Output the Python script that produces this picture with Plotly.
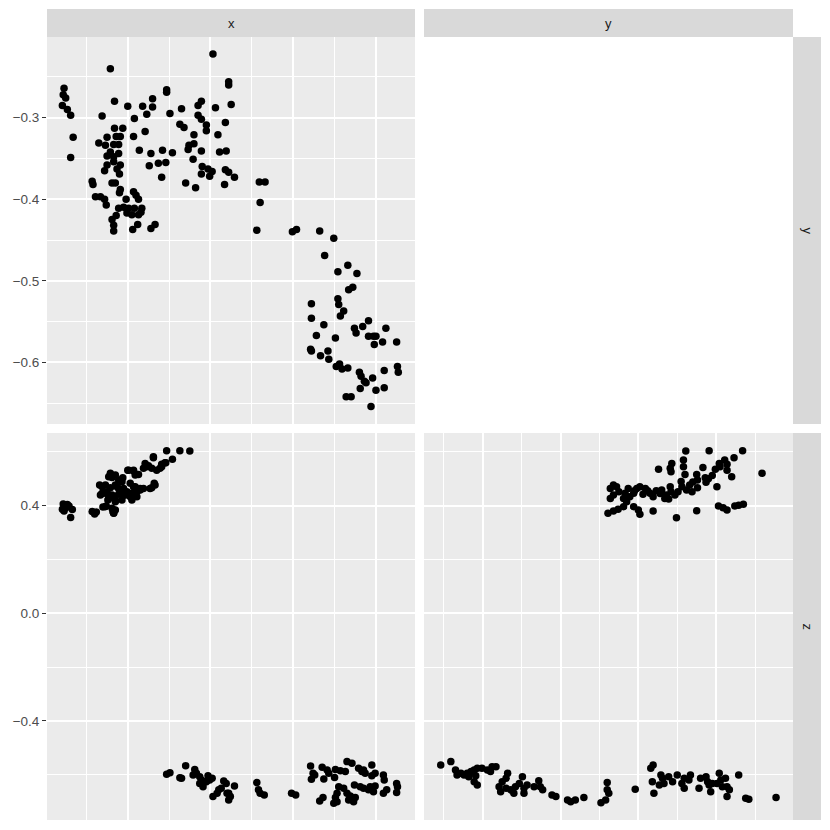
import plotly.graph_objects as go

# ---------------- data ----------------
# panel: y vs x  (row "y", column "x")
xy_x = [-0.877,-0.878,-0.875,-0.879,-0.873,-0.869,-0.866,-0.869,
        -0.821,-0.816,-0.800,-0.782,-0.770,-0.770,-0.777,-0.831,-0.792,-0.753,-0.753,-0.749,-0.735,
        -0.697,-0.678,-0.678,-0.675,-0.694,-0.715,-0.711,-0.715,-0.711,-0.705,-0.705,-0.682,-0.691,-0.737,-0.732,-0.720,-0.726,-0.727,-0.720,-0.711,
        -0.721,-0.710,-0.711,-0.703,-0.698,-0.701,-0.689,-0.681,-0.682,-0.678,-0.671,-0.683,-0.730,-0.718,
        -0.786,-0.772,-0.774,-0.758,-0.763,-0.754,-0.746,-0.759,
        -0.779,-0.793,-0.806,-0.816,-0.809,-0.814,-0.825,-0.835,-0.827,-0.817,-0.811,-0.821,-0.811,-0.825,-0.817,-0.825,-0.817,-0.809,-0.828,-0.813,
        -0.810,-0.843,-0.842,-0.819,-0.815,-0.809,-0.810,-0.839,-0.833,-0.828,-0.826,-0.802,-0.793,-0.790,-0.787,-0.811,-0.805,-0.799,-0.792,-0.783,
        -0.801,-0.795,-0.787,-0.784,-0.819,-0.814,-0.817,-0.817,-0.794,-0.788,-0.772,-0.767,
        -0.641,-0.634,-0.640,-0.644,-0.601,-0.596,-0.568,-0.551,-0.562,-0.546,-0.534,-0.523,-0.533,-0.528,-0.546,-0.545,-0.539,-0.543,-0.578,-0.578,
        -0.563,-0.572,-0.549,-0.526,-0.524,-0.516,-0.509,-0.509,-0.503,-0.500,-0.502,-0.492,-0.488,-0.475,-0.579,-0.578,-0.567,-0.558,-0.557,-0.548,
        -0.544,-0.541,-0.534,-0.520,-0.518,-0.514,-0.512,-0.519,-0.504,-0.500,-0.490,-0.490,-0.474,-0.473,-0.536,-0.530,-0.506]
xy_y = [-0.264,-0.272,-0.276,-0.285,-0.290,-0.297,-0.324,-0.349,
        -0.240,-0.280,-0.286,-0.286,-0.277,-0.287,-0.296,-0.298,-0.301,-0.266,-0.269,-0.295,-0.289,
        -0.222,-0.256,-0.260,-0.284,-0.288,-0.285,-0.280,-0.297,-0.302,-0.309,-0.316,-0.306,-0.321,-0.308,-0.312,-0.321,-0.334,-0.339,-0.332,-0.341,
        -0.351,-0.360,-0.369,-0.363,-0.366,-0.372,-0.342,-0.341,-0.364,-0.367,-0.373,-0.382,-0.380,-0.386,
        -0.340,-0.344,-0.359,-0.340,-0.356,-0.355,-0.343,-0.373,
        -0.317,-0.323,-0.313,-0.313,-0.323,-0.323,-0.324,-0.331,-0.334,-0.333,-0.333,-0.342,-0.344,-0.347,-0.348,-0.358,-0.354,-0.358,-0.365,-0.363,
        -0.369,-0.378,-0.382,-0.380,-0.380,-0.388,-0.392,-0.397,-0.397,-0.400,-0.407,-0.400,-0.391,-0.395,-0.400,-0.411,-0.410,-0.411,-0.411,-0.411,
        -0.417,-0.419,-0.419,-0.416,-0.425,-0.420,-0.432,-0.439,-0.437,-0.431,-0.436,-0.431,
        -0.379,-0.379,-0.404,-0.438,-0.440,-0.437,-0.439,-0.448,-0.469,-0.489,-0.481,-0.491,-0.511,-0.508,-0.522,-0.529,-0.537,-0.543,-0.528,-0.546,
        -0.554,-0.567,-0.570,-0.558,-0.564,-0.556,-0.549,-0.568,-0.568,-0.568,-0.578,-0.575,-0.558,-0.575,-0.584,-0.586,-0.592,-0.586,-0.596,-0.605,
        -0.602,-0.608,-0.607,-0.612,-0.617,-0.623,-0.625,-0.632,-0.619,-0.634,-0.610,-0.631,-0.605,-0.612,-0.642,-0.642,-0.654]

# panel: z vs x  (row "z", column "x"), (x, z) pairs
xz_pairs = [
    (-0.753,0.604),(-0.737,0.604),(-0.725,0.603),(-0.769,0.578),(-0.746,0.572),(-0.759,0.554),(-0.755,0.559),(-0.779,0.557),
    (-0.775,0.548),(-0.781,0.539),(-0.771,0.539),(-0.765,0.532),(-0.761,0.539),(-0.799,0.532),(-0.793,0.529),(-0.787,0.516),
    (-0.791,0.514),(-0.821,0.520),(-0.823,0.507),(-0.806,0.504),(-0.807,0.489),(-0.767,0.477),(-0.773,0.464),(-0.831,0.470),
    (-0.827,0.477),(-0.821,0.467),(-0.815,0.477),(-0.811,0.464),(-0.805,0.464),(-0.791,0.470),(-0.785,0.464),(-0.789,0.452),
    (-0.795,0.446),(-0.833,0.440),(-0.827,0.446),(-0.819,0.440),(-0.811,0.442),(-0.803,0.440),(-0.797,0.433),(-0.823,0.427),
    (-0.815,0.421),(-0.807,0.421),(-0.827,0.396),(-0.819,0.390),(-0.817,0.372),(-0.815,0.384),
    (-0.800,0.532),(-0.793,0.532),(-0.819,0.505),(-0.777,0.545),(-0.769,0.582),(-0.759,0.545),(-0.754,0.559),(-0.834,0.477),
    (-0.831,0.446),(-0.825,0.452),(-0.813,0.470),(-0.809,0.458),(-0.805,0.440),(-0.801,0.452),(-0.795,0.421),(-0.789,0.433),
    (-0.785,0.458),(-0.781,0.464),(-0.768,0.483),(-0.771,0.467),(-0.797,0.483),(-0.793,0.470),(-0.817,0.433),(-0.815,0.415),
    (-0.824,0.421),(-0.811,0.495),(-0.815,0.514),
    (-0.878,0.406),(-0.873,0.404),(-0.879,0.387),(-0.875,0.391),(-0.871,0.399),(-0.877,0.380),(-0.867,0.386),(-0.869,0.356),
    (-0.843,0.378),(-0.840,0.369),(-0.838,0.376),(-0.830,0.395),(-0.826,0.399),(-0.818,0.378),(-0.817,0.373),
    (-0.753,-0.598),(-0.749,-0.592),(-0.735,-0.613),(-0.730,-0.566),(-0.737,-0.611),
    (-0.719,-0.580),(-0.717,-0.594),(-0.713,-0.607),(-0.711,-0.619),(-0.709,-0.644),(-0.713,-0.632),(-0.705,-0.626),(-0.701,-0.619),
    (-0.703,-0.604),(-0.698,-0.613),(-0.721,-0.601),(-0.707,-0.626),
    (-0.697,-0.681),(-0.690,-0.656),(-0.687,-0.650),(-0.684,-0.623),(-0.681,-0.632),(-0.678,-0.694),(-0.676,-0.681),(-0.671,-0.642),
    (-0.680,-0.669),(-0.692,-0.669),(-0.678,-0.669),
    (-0.644,-0.629),(-0.642,-0.656),(-0.635,-0.675),(-0.640,-0.669),
    (-0.602,-0.669),(-0.597,-0.675),
    (-0.579,-0.567),(-0.576,-0.594),(-0.578,-0.617),(-0.574,-0.601),(-0.565,-0.572),(-0.559,-0.582),(-0.557,-0.594),(-0.563,-0.616),
    (-0.549,-0.580),(-0.550,-0.610),(-0.543,-0.585),(-0.537,-0.588),(-0.535,-0.551),(-0.529,-0.557),
    (-0.545,-0.644),(-0.539,-0.650),(-0.547,-0.669),(-0.549,-0.684),(-0.547,-0.700),(-0.551,-0.706),
    (-0.568,-0.697),(-0.564,-0.684),
    (-0.535,-0.669),(-0.533,-0.694),(-0.527,-0.700),(-0.525,-0.684),(-0.531,-0.679),
    (-0.526,-0.638),(-0.519,-0.644),(-0.515,-0.650),(-0.509,-0.656),(-0.507,-0.644),(-0.501,-0.642),(-0.503,-0.663),
    (-0.521,-0.576),(-0.517,-0.588),(-0.513,-0.594),(-0.515,-0.582),(-0.505,-0.564),(-0.501,-0.594),(-0.505,-0.604),
    (-0.491,-0.601),(-0.490,-0.619),(-0.487,-0.656),(-0.491,-0.669),
    (-0.475,-0.632),(-0.474,-0.644),(-0.475,-0.666),
]

# panel: z vs y  (row "z", column "y"), (y, z) pairs
yz_pairs = [
    (-0.339,0.603),(-0.309,0.604),(-0.266,0.604),(-0.241,0.520),(-0.357,0.557),(-0.359,0.539),(-0.358,0.526),(-0.342,0.570),
    (-0.342,0.545),(-0.340,0.516),(-0.374,0.535),(-0.317,0.542),(-0.301,0.535),(-0.296,0.557),(-0.289,0.570),(-0.286,0.554),
    (-0.277,0.578),(-0.286,0.532),(-0.280,0.507),(-0.299,0.470),(-0.325,0.516),(-0.324,0.495),(-0.314,0.504),(-0.313,0.487),
    (-0.324,0.467),(-0.334,0.477),(-0.331,0.452),(-0.338,0.458),(-0.344,0.470),(-0.349,0.452),(-0.353,0.440),(-0.359,0.470),
    (-0.358,0.452),(-0.364,0.440),(-0.366,0.427),(-0.370,0.458),(-0.361,0.425),(-0.381,0.433),(-0.385,0.446),(-0.391,0.464),
    (-0.394,0.442),(-0.398,0.470),(-0.402,0.464),(-0.406,0.446),(-0.413,0.464),(-0.417,0.446),(-0.419,0.427),(-0.415,0.415),
    (-0.411,0.433),(-0.432,0.477),(-0.436,0.464),(-0.432,0.440),(-0.436,0.427),(-0.439,0.372),(-0.432,0.380),(-0.426,0.387),
    (-0.419,0.396),(-0.406,0.396),(-0.400,0.384),(-0.398,0.368),(-0.381,0.380),(-0.351,0.355),(-0.325,0.381),(-0.297,0.399),
    (-0.291,0.392),(-0.286,0.384),(-0.276,0.399),(-0.271,0.402),(-0.265,0.405),
    (-0.345,0.490),(-0.330,0.488),(-0.310,0.500),(-0.305,0.512),(-0.295,0.545),(-0.372,0.445),(-0.377,0.455),(-0.388,0.455),
    (-0.405,0.455),(-0.425,0.452),(-0.428,0.470),
    (-0.654,-0.564),(-0.641,-0.551),(-0.635,-0.582),(-0.633,-0.601),(-0.628,-0.594),(-0.624,-0.601),(-0.620,-0.594),(-0.615,-0.588),
    (-0.611,-0.582),(-0.607,-0.576),(-0.601,-0.576),(-0.594,-0.582),(-0.588,-0.570),(-0.583,-0.570),(-0.590,-0.588),(-0.609,-0.604),
    (-0.618,-0.607),(-0.611,-0.626),(-0.607,-0.638),
    (-0.568,-0.594),(-0.570,-0.613),(-0.575,-0.626),
    (-0.579,-0.644),(-0.577,-0.663),(-0.570,-0.650),(-0.564,-0.656),(-0.560,-0.669),(-0.558,-0.644),(-0.553,-0.632),(-0.549,-0.607),
    (-0.547,-0.650),(-0.543,-0.638),(-0.534,-0.644),(-0.528,-0.622),(-0.523,-0.656),(-0.526,-0.644),(-0.547,-0.669),
    (-0.511,-0.675),(-0.506,-0.681),
    (-0.491,-0.694),(-0.487,-0.700),(-0.481,-0.694),(-0.470,-0.684),
    (-0.448,-0.704),(-0.442,-0.694),(-0.438,-0.669),(-0.440,-0.656),(-0.440,-0.629),
    (-0.404,-0.654),
    (-0.384,-0.576),(-0.381,-0.564),(-0.382,-0.626),(-0.380,-0.669),
    (-0.371,-0.601),(-0.369,-0.613),(-0.367,-0.632),(-0.373,-0.638),(-0.361,-0.607),(-0.350,-0.601),(-0.356,-0.626),
    (-0.341,-0.613),(-0.344,-0.632),(-0.341,-0.650),(-0.333,-0.601),(-0.335,-0.619),
    (-0.320,-0.613),(-0.322,-0.650),(-0.313,-0.607),(-0.311,-0.626),(-0.309,-0.638),(-0.307,-0.663),(-0.305,-0.632),(-0.299,-0.632),
    (-0.296,-0.594),(-0.294,-0.619),(-0.292,-0.644),(-0.286,-0.644),(-0.288,-0.613),(-0.283,-0.656),(-0.286,-0.681),(-0.271,-0.601),
    (-0.262,-0.687),(-0.258,-0.691),
    (-0.223,-0.684),
]

col_labels = ["x", "y"]
row_labels = ["y", "z"]

x_range = [-0.8976, -0.4528]
y_range = [-0.6755, -0.2012]
z_range = [-0.768, 0.670]

x_major = [-0.8, -0.7, -0.6, -0.5]
x_minor = [-0.85, -0.75, -0.65, -0.55]
y_major = [-0.6, -0.5, -0.4, -0.3]
y_minor = [-0.65, -0.55, -0.45, -0.35, -0.25]
y_ticktext = ["\u22120.6", "\u22120.5", "\u22120.4", "\u22120.3"]
z_major = [-0.4, 0.0, 0.4]
z_minor = [-0.6, -0.2, 0.2, 0.6]
z_ticktext = ["\u22120.4", "0.0", "0.4"]

# ---------------- layout geometry (screen pixels) ----------------
# the page body has an 8px margin, so the figure starts at (8, 8)
OFF = 8
S = 830 - OFF
def px(v): return (v - OFF) / S
def py(v): return 1 - (v - OFF) / S

col_x = [(47, 415), (424, 793)]
row_y = [(37, 424), (433, 820)]
strip_top = (9, 37)
strip_right = (793, 821)

BG = "#EBEBEB"
STRIP = "#D9D9D9"
FONT = "Liberation Sans, Arial, Helvetica, sans-serif"
TICK_SIZE = 13.5
STRIP_SIZE = 13

marker = dict(color="black", size=7.5, line=dict(width=0))

fig = go.Figure()
fig.add_trace(go.Scatter(x=xy_x, y=xy_y, mode="markers", marker=marker, xaxis="x", yaxis="y",
                         showlegend=False, hoverinfo="skip"))
fig.add_trace(go.Scatter(x=[p[0] for p in xz_pairs], y=[p[1] for p in xz_pairs], mode="markers",
                         marker=marker, xaxis="x2", yaxis="y2", showlegend=False, hoverinfo="skip"))
fig.add_trace(go.Scatter(x=[p[0] for p in yz_pairs], y=[p[1] for p in yz_pairs], mode="markers",
                         marker=marker, xaxis="x3", yaxis="y3", showlegend=False, hoverinfo="skip"))

def axis(rng, dom, major, minor, anchor, labels=None):
    d = dict(range=rng, domain=dom, anchor=anchor, tickmode="array", tickvals=major,
             showgrid=True, gridcolor="white", gridwidth=1.6, zeroline=False, showline=False,
             fixedrange=True,
             minor=dict(tickmode="array", tickvals=minor, showgrid=True, gridcolor="white",
                        gridwidth=0.8, ticks=""))
    if labels is None:
        d.update(showticklabels=False, ticks="")
    else:
        d.update(ticktext=labels, showticklabels=True, ticks="outside", ticklen=4, tickwidth=1,
                 tickcolor="#333333", tickfont=dict(size=TICK_SIZE, color="#4D4D4D", family=FONT))
    return d

xdom_l = [px(col_x[0][0]), px(col_x[0][1])]
xdom_r = [px(col_x[1][0]), px(col_x[1][1])]
ydom_t = [py(row_y[0][1]), py(row_y[0][0])]
ydom_b = [py(row_y[1][1]), py(row_y[1][0])]

fig.update_layout(
    width=S, height=S, margin=dict(l=0, r=0, t=0, b=0),
    paper_bgcolor="white", plot_bgcolor=BG,
    font=dict(family=FONT),
    xaxis=axis(x_range, xdom_l, x_major, x_minor, "y"),
    yaxis=axis(y_range, ydom_t, y_major, y_minor, "x", y_ticktext),
    xaxis2=axis(x_range, xdom_l, x_major, x_minor, "y2"),
    yaxis2=axis(z_range, ydom_b, z_major, z_minor, "x2", z_ticktext),
    xaxis3=axis(y_range, xdom_r, y_major, y_minor, "y3"),
    yaxis3=axis(z_range, ydom_b, z_major, z_minor, "x3"),
)

shapes = []
annotations = []
for (x0, x1), lab in zip(col_x, col_labels):
    shapes.append(dict(type="rect", xref="paper", yref="paper", x0=px(x0), x1=px(x1),
                       y0=py(strip_top[1]), y1=py(strip_top[0]), fillcolor=STRIP, line=dict(width=0),
                       layer="below"))
    annotations.append(dict(xref="paper", yref="paper", x=px((x0 + x1) / 2),
                            y=py((strip_top[0] + strip_top[1]) / 2), text=lab, showarrow=False,
                            font=dict(size=STRIP_SIZE, color="#1A1A1A", family=FONT),
                            xanchor="center", yanchor="middle"))
for (y0, y1), lab in zip(row_y, row_labels):
    shapes.append(dict(type="rect", xref="paper", yref="paper", x0=px(strip_right[0]), x1=px(strip_right[1]),
                       y0=py(y1), y1=py(y0), fillcolor=STRIP, line=dict(width=0), layer="below"))
    annotations.append(dict(xref="paper", yref="paper", x=px((strip_right[0] + strip_right[1]) / 2),
                            y=py((y0 + y1) / 2), text=lab, showarrow=False, textangle=90,
                            font=dict(size=STRIP_SIZE, color="#1A1A1A", family=FONT),
                            xanchor="center", yanchor="middle"))

fig.update_layout(shapes=shapes, annotations=annotations)
fig.write_html("out.html")
